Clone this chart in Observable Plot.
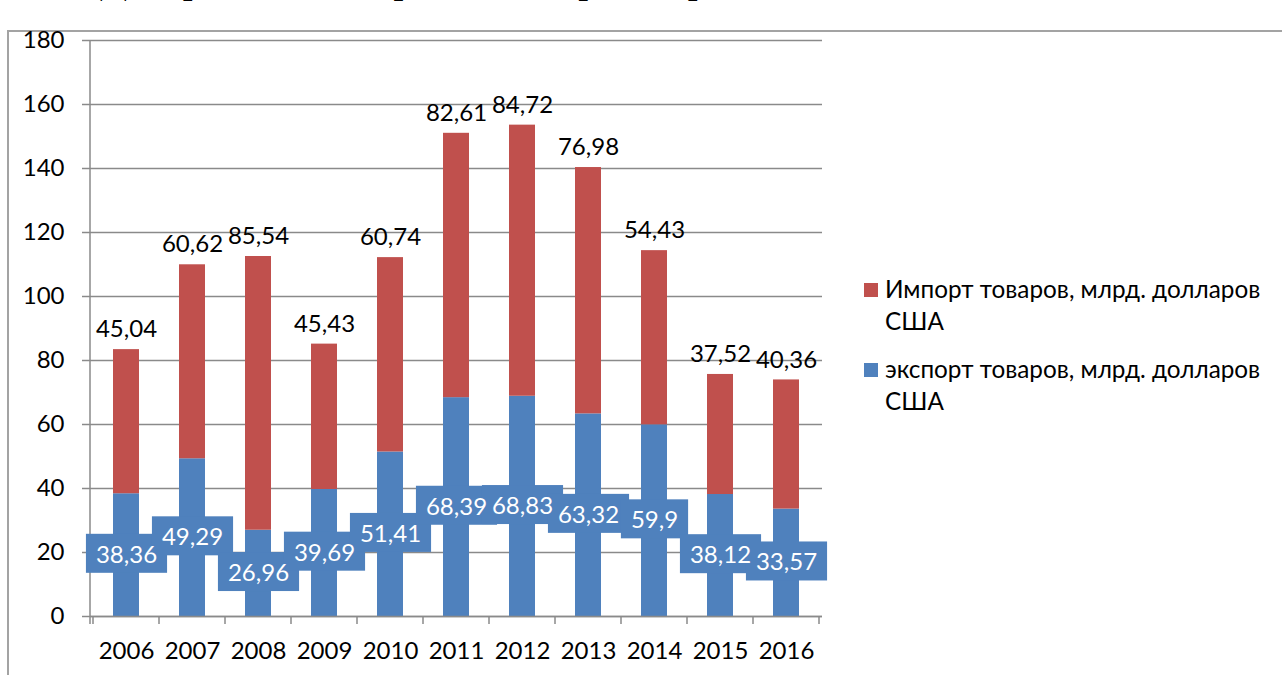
<!DOCTYPE html>
<html>
<head>
<meta charset="utf-8">
<script src="https://cdn.jsdelivr.net/npm/d3@7"></script>
<script src="https://cdn.jsdelivr.net/npm/@observablehq/plot@0.6"></script>
<style>
html, body { margin: 0; padding: 0; background: #fff; }
#page { position: relative; width: 1282px; height: 675px; overflow: hidden; font-family: Lato, "Noto Sans", sans-serif; color: #000; }
#title { position: absolute; left: 100px; top: -41px; font-family: "Liberation Serif", "Times New Roman", serif; font-size: 40px; line-height: 40px; white-space: nowrap; color: #000; }
#frame { position: absolute; left: 7px; top: 30px; width: 1400px; height: 800px; border-left: 2px solid #a3a3a3; border-top: 2px solid #a3a3a3; }
#chart { position: absolute; left: 0; top: 0; }
#chart svg { overflow: visible; }
.leg { position: absolute; left: 885px; font-size: 24.3px; line-height: 32px; white-space: nowrap; }
.sw { position: absolute; left: 864px; width: 14px; height: 14px; }
</style>
</head>
<body>
<div id="page">
  <div id="title">Диаграмма экспорта и импорта Украины за 2006–2016 гг.</div>
  <div id="frame"></div>
  <div id="chart"></div>
  <div id="legend"></div>
</div>
<script>
const years = ["2006", "2007", "2008", "2009", "2010", "2011", "2012", "2013", "2014", "2015", "2016"];
const exportValues = [38.36, 49.29, 26.96, 39.69, 51.41, 68.39, 68.83, 63.32, 59.9, 38.12, 33.57];
const importValues = [45.04, 60.62, 85.54, 45.43, 60.74, 82.61, 84.72, 76.98, 54.43, 37.52, 40.36];
const seriesNames = ["экспорт товаров, млрд. долларов США", "Импорт товаров, млрд. долларов США"];
const seriesColors = ["#4F81BD", "#C0504D"];
const legendOrder = [1, 0];
const yTicks = [0, 20, 40, 60, 80, 100, 120, 140, 160, 180];

const rows = years.flatMap((year, i) => [
  {year, series: seriesNames[0], value: exportValues[i]},
  {year, series: seriesNames[1], value: importValues[i]}
]);
const fmt = v => String(v).replace(".", ",");
const axisColor = "#8a8a8a";

function axisLines(index, scales, values, dims) {
  const x = scales.x;
  const g = d3.create("svg:g").attr("stroke", axisColor).attr("stroke-width", 1.5);
  const y0 = dims.height - dims.marginBottom;
  g.append("line").attr("x1", dims.marginLeft).attr("x2", dims.marginLeft)
    .attr("y1", dims.marginTop).attr("y2", y0 + 8);
  const step = x.step ? x.step() : (dims.width - dims.marginLeft - dims.marginRight) / years.length;
  const bw = x.bandwidth ? x.bandwidth() : step * 0.4;
  const bounds = years.map(yr => x(yr) - (step - bw) / 2);
  bounds.push(x(years[years.length - 1]) + bw + (step - bw) / 2);
  for (const b of bounds) {
    g.append("line").attr("x1", b).attr("x2", b).attr("y1", y0).attr("y2", y0 + 8);
  }
  return g.node();
}

const chart = Plot.plot({
  width: 822,
  height: 675,
  marginLeft: 90,
  marginRight: 0,
  marginTop: 40,
  marginBottom: 59,
  style: {fontFamily: "Lato, 'Noto Sans', sans-serif", fontSize: "24px", color: "#000", background: "transparent", overflow: "visible"},
  x: {domain: years, paddingInner: 0.6, paddingOuter: 0.3, label: null},
  y: {domain: [0, 180], ticks: yTicks, label: null},
  color: {domain: seriesNames, range: seriesColors},
  marks: [
    Plot.gridY(yTicks, {stroke: axisColor, strokeOpacity: 1, strokeWidth: 1.5}),
    Plot.axisY(yTicks, {tickSize: 8, tickPadding: 18, stroke: axisColor, strokeWidth: 1.5, label: null, tickFormat: d => d}),
    Plot.axisX({tickSize: 0, tickPadding: 25, label: null}),
    Plot.barY(rows, {x: "year", y: "value", fill: "series", order: seriesNames}),
    Plot.ruleY([0], {stroke: axisColor, strokeWidth: 1.5}),
    axisLines,
    Plot.text(years, {x: d => d, y: (d, i) => exportValues[i] / 2, text: (d, i) => fmt(exportValues[i]), fill: "white"}),
    Plot.text(years, {x: d => d, y: (d, i) => exportValues[i] + importValues[i], text: (d, i) => fmt(importValues[i]), fill: "#000", dy: -20})
  ]
});
document.getElementById("chart").appendChild(chart);

// blue boxes behind export labels (all boxes first, then texts on top)
const textGroups = chart.querySelectorAll('g[aria-label="text"]');
if (textGroups.length) {
  const grp = textGroups[0];
  const texts = Array.from(grp.querySelectorAll("text"));
  const first = grp.firstChild;
  texts.forEach(t => {
    const b = t.getBBox();
    const r = document.createElementNS("http://www.w3.org/2000/svg", "rect");
    r.setAttribute("x", b.x - 10);
    r.setAttribute("y", b.y - 5);
    r.setAttribute("width", b.width + 20);
    r.setAttribute("height", b.height + 10);
    r.setAttribute("fill", seriesColors[0]);
    const tr = t.getAttribute("transform");
    if (tr) r.setAttribute("transform", tr);
    grp.insertBefore(r, first);
  });
}

// legend
const legend = document.getElementById("legend");
const legTops = [273, 353];
legendOrder.forEach((si, k) => {
  const sw = document.createElement("div");
  sw.className = "sw";
  sw.style.top = (legTops[k] + 10) + "px";
  sw.style.background = seriesColors[si];
  legend.appendChild(sw);
  const name = seriesNames[si];
  const cut = name.lastIndexOf(" ");
  const t = document.createElement("div");
  t.className = "leg";
  t.style.top = legTops[k] + "px";
  t.innerHTML = name.slice(0, cut) + "<br>" + name.slice(cut + 1);
  legend.appendChild(t);
});
</script>
</body>
</html>
